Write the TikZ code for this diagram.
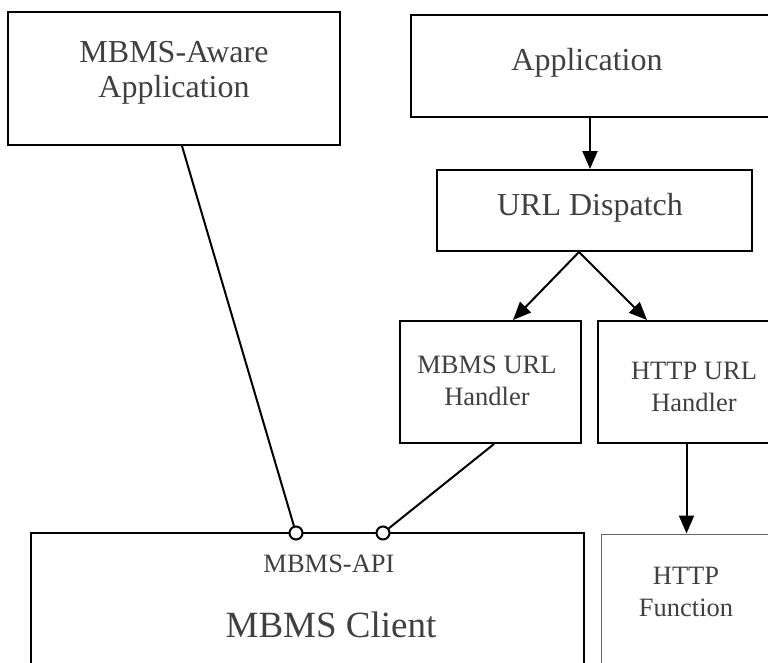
\documentclass[tikz,border=0pt]{standalone}
\usepackage{fontspec}
\setmainfont{Liberation Serif}
\usetikzlibrary{calc, arrows.meta, positioning}
\definecolor{txtgray}{HTML}{404040}
\tikzset{
	box/.style={draw, line width=2pt, inner sep=0pt},
	thinbox/.style={draw=black!60, line width=1pt, inner sep=0pt},
	lbl/.style={align=center, inner sep=0pt, text=txtgray},
	big/.style={lbl, font=\fontsize{32}{35}\selectfont},
	small/.style={lbl, font=\fontsize{26.5}{32}\selectfont},
	arr/.style={line width=2pt, -{Triangle[length=18pt,width=15pt]}},
	wire/.style={line width=2pt},
	port/.style={circle, draw, fill=white, line width=2pt, inner sep=0pt, minimum size=13pt}
}

\begin{document}
\begin{tikzpicture}[x=1pt, y=-1pt]
	\useasboundingbox (0,0) rectangle (768,662);
	\clip (0,0) rectangle (768,662);

	\node[box, minimum width=332pt, minimum height=133pt] (aware) at (174,78.5) {};
	\node[box, minimum width=364pt, minimum height=102pt] (app) at (593,66) {};
	\node[box, minimum width=315pt, minimum height=81pt] (disp) at (594.5,210.5) {};
	\node[box, minimum width=181pt, minimum height=122pt] (murl) at (490.5,382) {};
	\node[box, minimum width=177pt, minimum height=122pt] (hurl) at (686.5,382) {};
	\node[box, minimum width=553pt, minimum height=167pt] (client) at (307.5,616.5) {};
	\node[thinbox, minimum width=174pt, minimum height=166pt] (func) at (688,617) {};

	\node[big] (awaretxt) at (174,72.5) {MBMS-Aware\\Application};
	\node[big] (apptxt) at (587,63) {Application};
	\node[big] (disptxt) at (590,207.5) {URL Dispatch};
	\node[small] (murltxt) at (487,381) {MBMS URL\\Handler};
	\node[small] (hurltxt) at (694,387) {HTTP URL\\Handler};
	\node[small, font=\fontsize{26.5}{30}\selectfont] (apitxt) at (329,564) {MBMS-API};
	\node[lbl, font=\fontsize{37}{40}\selectfont] (clienttxt) at (331,624.5) {MBMS Client};
	\node[small] (functxt) at (686,592) {HTTP\\Function};

	\draw[arr] ([xshift=-3pt]app.south) -- ([xshift=-3pt]app.south |- disp.north);
	\draw[arr] ([xshift=-15.5pt]disp.south) -- ([xshift=22.5pt]murl.north);
	\draw[arr] ([xshift=-15.5pt]disp.south) -- ([xshift=-39.5pt]hurl.north);
	\draw[arr] (hurl.south) -- (hurl.south |- func.north);

	\node[port] (p1) at (296,533) {};
	\node[port] (p2) at (383,533) {};
	\draw[wire] ([xshift=8pt]aware.south) -- (p1);
	\draw[wire] ([xshift=3.5pt]murl.south) -- (p2);
\end{tikzpicture}
\end{document}
